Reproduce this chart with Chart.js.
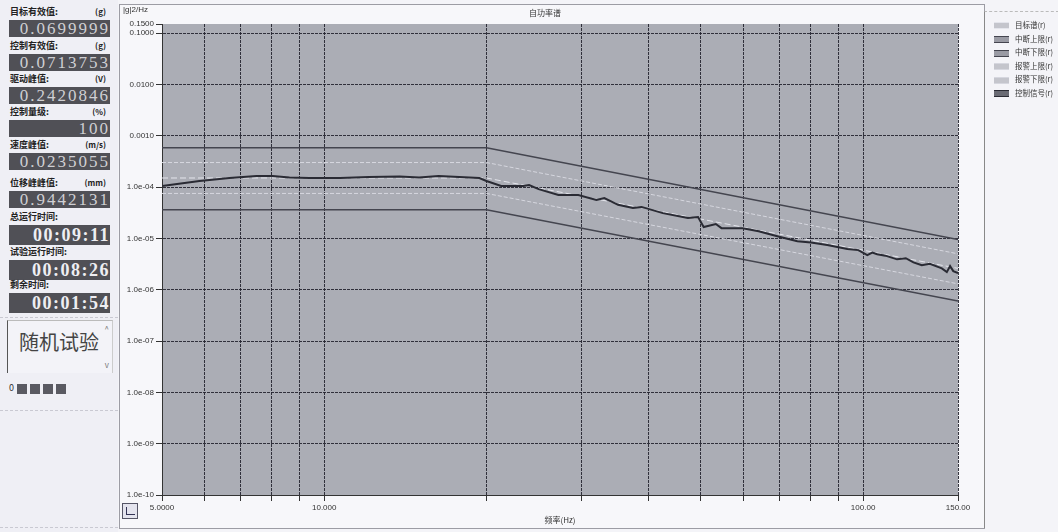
<!DOCTYPE html>
<html>
<head>
<meta charset="utf-8">
<script src="https://cdn.jsdelivr.net/npm/chart.js@4/dist/chart.umd.min.js"></script>
<style>
  body { margin: 0; width: 1058px; height: 532px; overflow: hidden; background: #f4f4f8; font-family: "Noto Sans CJK SC", "Liberation Sans", sans-serif; position: relative; }
  #left { position: absolute; left: 0; top: 0; width: 118px; height: 532px; background: #efeff5; }
  .lbl { position: absolute; left: 10px; width: 100px; font-size: 9px; color: #222; line-height: 12px; font-weight: bold; }
  .lbl span { position: absolute; right: 4px; top: 0; font-size: 8px; }
  .val { position: absolute; left: 9px; width: 101px; height: 17px; background: #505056; color: #cfcfd3; font-family: "Liberation Serif", serif; font-size: 17px; line-height: 17px; text-align: right; letter-spacing: 2px; overflow: hidden; }
  .val.time { height: 20px; line-height: 20px; font-size: 18px; color: #eeeef2; font-weight: bold; letter-spacing: 1.5px; }
  #mode { position: absolute; left: 7px; top: 320px; width: 104px; height: 52px; border-left: 1px solid #555; border-top: 1px solid #bbb; border-right: 1px solid #ccc; background: #f3f3f8; }
  #mode .t { position: absolute; left: 11px; top: 6px; font-size: 20px; color: #444; }
  #mode .s { position: absolute; right: 3px; font-size: 8px; color: #777; }
  #leds { position: absolute; left: 9px; top: 381px; font-size: 9px; color: #333; }
  #leds i { display: inline-block; width: 10px; height: 10px; background: #5a5a62; margin-left: 3px; vertical-align: middle; }
  .hdash { position: absolute; left: 0; width: 118px; border-top: 1px dashed #c9c9d2; }
  #panel { position: absolute; left: 119px; top: 4px; width: 864px; height: 523px; border: 1px solid #9c9ca4; background: #f7f7fa; }
  #chart { position: absolute; left: 119px; top: 0; }
  #unit { position: absolute; left: 123px; top: 5px; font-size: 8px; color: #333; font-family: "Liberation Sans", sans-serif; }
  #title { position: absolute; left: 520px; top: 7px; width: 50px; text-align: center; font-size: 8px; color: #333; }
  #icon { position: absolute; left: 122px; top: 503px; width: 14px; height: 14px; border: 1px solid #556; background: #e4e4ee; }
  #icon b { position: absolute; left: 3px; top: 3px; width: 8px; height: 7px; border-left: 1px solid #335; border-bottom: 1px solid #335; }
  #legend { position: absolute; left: 984px; top: 11px; width: 74px; height: 516px; border-left: 1px solid #888; border-top: 1px dashed #bbb; }
  .li { position: absolute; left: 9px; font-size: 7.5px; color: #333; line-height: 10px; white-space: nowrap; }
  .li i { display: inline-block; width: 15px; height: 5px; margin-right: 6px; vertical-align: middle; }
</style>
</head>
<body>
<div id="left"></div>
<div id="panel"></div>
<canvas id="chart" width="866" height="532"></canvas>
<div id="unit">|g|2/Hz</div>
<div id="title">自功率谱</div>
<div id="icon"><b></b></div>
<div id="legend"></div>
<script>
// status panel
const statusLabels = ['目标有效值:', '控制有效值:', '驱动峰值:', '控制量级:', '速度峰值:', '位移峰峰值:', '总运行时间:', '试验运行时间:', '剩余时间:'];
const statusUnits = ['(g)', '(g)', '(V)', '(%)', '(m/s)', '(mm)', '', '', ''];
const statusValues = ['0.0699999', '0.0713753', '0.2420846', '100', '0.0235055', '0.9442131', '00:09:11', '00:08:26', '00:01:54'];

// spectrum profile (Hz, g^2/Hz)
const profileFreq = [5, 20, 150];
const targetPsd = [1.5e-4, 1.5e-4, 2.6e-6];
const abortUpper = [5.8e-4, 5.8e-4, 9.5e-6];
const abortLower = [3.6e-5, 3.6e-5, 6.0e-7];
const alarmUpper = [3.0e-4, 3.0e-4, 5.0e-6];
const alarmLower = [7.5e-5, 7.5e-5, 1.3e-6];

// measured control signal
const ctrlFreq = [5, 5.87, 6.67, 7.49, 8.02, 8.62, 9.39, 10.7, 12.1, 13.8, 15.0, 16.3, 17.8, 19.4, 20.0, 21.3, 23.4, 24.0, 25.0, 27.2, 29.6, 32.0, 33.1, 35.1, 37.4, 38.8, 42.5, 47.3, 49.4, 50.6, 53.3, 54.6, 59.8, 64, 69.3, 75.5, 80, 85.8, 93.5, 98, 101.8, 104, 106.2, 110, 115.6, 120, 124, 128.5, 133, 140, 143, 145, 147, 150];
const ctrlPsd = [1.05e-4, 1.31e-4, 1.50e-4, 1.64e-4, 1.64e-4, 1.53e-4, 1.50e-4, 1.50e-4, 1.57e-4, 1.60e-4, 1.53e-4, 1.64e-4, 1.57e-4, 1.50e-4, 1.31e-4, 1.05e-4, 1.05e-4, 1.09e-4, 9.1e-5, 7.0e-5, 7.0e-5, 5.6e-5, 6.1e-5, 4.5e-5, 3.9e-5, 4.1e-5, 3.1e-5, 2.5e-5, 2.6e-5, 1.66e-5, 1.9e-5, 1.58e-5, 1.58e-5, 1.38e-5, 1.10e-5, 8.8e-6, 8.3e-6, 7.4e-6, 6.2e-6, 5.9e-6, 4.7e-6, 5.3e-6, 4.9e-6, 4.6e-6, 3.9e-6, 4.1e-6, 3.4e-6, 3.0e-6, 3.2e-6, 2.6e-6, 2.2e-6, 2.9e-6, 2.3e-6, 2.1e-6];

const xTicks = [5, 6, 7, 8, 9, 10, 20, 30, 40, 50, 60, 70, 80, 90, 100, 150];
const xLabels = { 5: '5.0000', 10: '10.000', 100: '100.00', 150: '150.00' };
const yTicks = [1e-10, 1e-9, 1e-8, 1e-7, 1e-6, 1e-5, 1e-4, 1e-3, 1e-2, 0.1, 0.15];

const legendNames = ['目标谱(r)', '中断上限(r)', '中断下限(r)', '报警上限(r)', '报警下限(r)', '控制信号(r)'];

const StatusPanel = {
  boxTops: [20, 54, 87, 120, 153, 191, 225, 260, 293],

  render() {
    const left = document.getElementById('left');
    let html = '';
    statusLabels.forEach((label, i) => {
      const top = this.boxTops[i];
      const isTime = statusUnits[i] === '';
      html += `<div class="lbl" style="top:${top - 14}px">${label}<span>${statusUnits[i]}</span></div>`;
      html += `<div class="val${isTime ? ' time' : ''}" style="top:${top}px">${statusValues[i]}</div>`;
    });
    html += `
      <div class="hdash" style="top:317px"></div>
      <div id="mode"><div class="t">随机试验</div><div class="s" style="top:2px">^</div><div class="s" style="top:38px">v</div></div>
      <div id="leds">0<i></i><i></i><i></i><i></i></div>
      <div class="hdash" style="top:410px"></div>
      <div class="hdash" style="top:527px"></div>`;
    left.innerHTML = html;
  }
};

const pts = (xs, ys) => xs.map((x, i) => ({ x, y: ys[i] }));

const lineStyles = [
  { color: '#e4e5ec', width: 1, dash: [6, 3] },
  { color: '#44454f', width: 1.5, dash: [] },
  { color: '#44454f', width: 1.5, dash: [] },
  { color: '#d6d7df', width: 1, dash: [4, 2] },
  { color: '#d6d7df', width: 1, dash: [4, 2] },
  { color: '#2a2b34', width: 2, dash: [] }
];

const seriesData = [
  pts(profileFreq, targetPsd),
  pts(profileFreq, abortUpper),
  pts(profileFreq, abortLower),
  pts(profileFreq, alarmUpper),
  pts(profileFreq, alarmLower),
  pts(ctrlFreq, ctrlPsd)
];

const plotBackground = {
  id: 'plotBackground',
  beforeDraw(chart) {
    const { ctx, chartArea: a } = chart;
    ctx.save();
    ctx.fillStyle = '#abadb5';
    ctx.fillRect(a.left, a.top, a.right - a.left, a.bottom - a.top);
    ctx.restore();
  }
};

const tickFont = { family: 'Liberation Sans', size: 8 };
const gridColor = 'rgba(34,34,46,0.9)';

new Chart(document.getElementById('chart'), {
  type: 'line',
  data: {
    datasets: seriesData.map((data, i) => ({
      label: legendNames[i],
      data,
      borderColor: lineStyles[i].color,
      borderWidth: lineStyles[i].width,
      borderDash: lineStyles[i].dash,
      order: 6 - i
    }))
  },
  options: {
    responsive: false,
    animation: false,
    layout: { padding: { top: 24, right: 27, left: 0, bottom: 0 } },
    plugins: { legend: { display: false }, tooltip: { enabled: false } },
    elements: { point: { radius: 0 }, line: { tension: 0 } },
    scales: {
      x: {
        type: 'logarithmic',
        min: 5,
        max: 150,
        afterBuildTicks: s => { s.ticks = xTicks.map(v => ({ value: v })); },
        afterFit: s => { s.height = 37; },
        ticks: {
          autoSkip: false,
          maxRotation: 0,
          color: '#333',
          font: tickFont,
          padding: 2,
          callback: v => xLabels[v] || ''
        },
        grid: { color: gridColor, tickColor: '#333', tickLength: 6 },
        border: { color: '#333', dash: [3, 1] },
        title: { display: true, text: '频率(Hz)', color: '#333', font: { family: 'Noto Sans CJK SC', size: 8 }, padding: { top: 0, bottom: 7 } }
      },
      y: {
        type: 'logarithmic',
        min: 1e-10,
        max: 0.15,
        afterBuildTicks: s => { s.ticks = yTicks.map(v => ({ value: v })); },
        afterFit: s => { s.width = 43; },
        ticks: {
          autoSkip: false,
          color: '#333',
          font: tickFont,
          padding: 2,
          callback: v => v >= 1e-3 ? v.toFixed(4) : v.toExponential(1).replace(/e-(\d)$/, 'e-0$1')
        },
        grid: {
          color: ctx => ctx.tick && ctx.tick.value === 0.15 ? 'rgba(0,0,0,0)' : gridColor,
          tickColor: '#333',
          tickLength: 6
        },
        border: { color: '#333', dash: [3, 1] }
      }
    }
  },
  plugins: [plotBackground]
});

function renderLegend() {
  const box = document.getElementById('legend');
  box.innerHTML = legendNames.map((name, i) => {
    const st = lineStyles[i];
    const band = i === 5 ? '#6a6b74' : (st.color === '#44454f' ? '#9a9ba4' : '#c4c5cc');
    return `<div class="li" style="top:${8 + i * 13.6}px"><i style="background:${band};border-top:1px solid ${st.color};border-bottom:1px solid ${st.color}"></i>${name}</div>`;
  }).join('');
}

StatusPanel.render();
renderLegend();
</script>
</body>
</html>
